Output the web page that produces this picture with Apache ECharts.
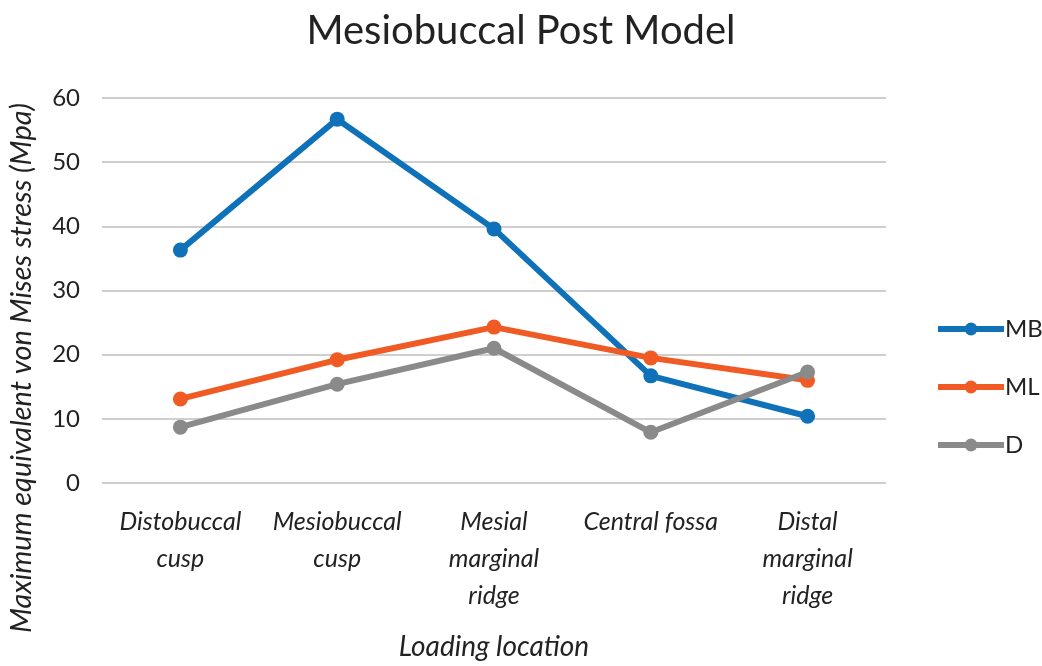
<!DOCTYPE html>
<html>
<head>
<meta charset="utf-8">
<script src="https://cdn.jsdelivr.net/npm/echarts@6/dist/echarts.min.js"></script>
<style>
  html, body { margin: 0; padding: 0; background: #fff; }
  #chart { width: 1042px; height: 666px; }
</style>
</head>
<body>
<div id="chart"></div>
<script>
// loading locations on the tooth
const categories = [
  'Distobuccal\ncusp',
  'Mesiobuccal\ncusp',
  'Mesial\nmarginal\nridge',
  'Central fossa',
  'Distal\nmarginal\nridge'
];

// max equivalent von Mises stress (MPa)
const mbValues = [36.3, 56.7, 39.6, 16.7, 10.4];
const mlValues = [13.1, 19.2, 24.3, 19.5, 16.0];
const dValues = [8.7, 15.4, 21.0, 7.9, 17.3];

const font = 'Lato, "Open Sans", sans-serif';

const mkSeries = (name, data, color) => ({
  name,
  type: 'line',
  data,
  symbol: 'circle',
  symbolSize: 15,
  lineStyle: { width: 6, color },
  itemStyle: { color },
  emphasis: { disabled: true }
});

const chart = echarts.init(document.getElementById('chart'));
chart.setOption({
  animation: false,
  title: {
    text: 'Mesiobuccal Post Model',
    left: 'center',
    top: 6,
    textStyle: { fontFamily: font, fontSize: 40, fontWeight: 'normal', color: '#222' }
  },
  legend: {
    orient: 'vertical',
    left: 930,
    top: 312,
    itemWidth: 66,
    itemHeight: 16,
    itemGap: 34,
    lineStyle: { width: 6 },
    textStyle: { fontFamily: font, fontSize: 24, color: '#222', padding: [0, 0, 0, -4] },
    data: ['MB', 'ML', 'D']
  },
  graphic: [{
    type: 'text',
    x: 22,
    y: 368,
    rotation: Math.PI / 2,
    style: {
      text: 'Maximum equivalent von Mises stress (Mpa)',
      fontFamily: font,
      fontSize: 29,
      fontStyle: 'italic',
      fill: '#222',
      align: 'center',
      verticalAlign: 'middle'
    }
  }],
  grid: { left: 102, right: 156, top: 98, bottom: 183 },
  xAxis: {
    type: 'category',
    data: categories,
    name: 'Loading location',
    nameLocation: 'middle',
    nameGap: 150,
    nameTextStyle: { fontFamily: font, fontSize: 28, fontStyle: 'italic', color: '#222' },
    axisLine: { show: false },
    axisTick: { show: false },
    axisLabel: {
      fontFamily: font, fontSize: 25, fontStyle: 'italic', color: '#222',
      lineHeight: 37, margin: 20, interval: 0
    }
  },
  yAxis: {
    type: 'value',
    min: 0,
    max: 60,
    interval: 10,
    axisLabel: { fontFamily: font, fontSize: 24, color: '#222', margin: 22 },
    splitLine: { lineStyle: { color: '#cfcfcf', width: 2 } }
  },
  series: [
    mkSeries('MB', mbValues, '#0f72b9'),
    mkSeries('ML', mlValues, '#f05a24'),
    mkSeries('D', dValues, '#8a8a8a')
  ]
});
</script>
</body>
</html>
